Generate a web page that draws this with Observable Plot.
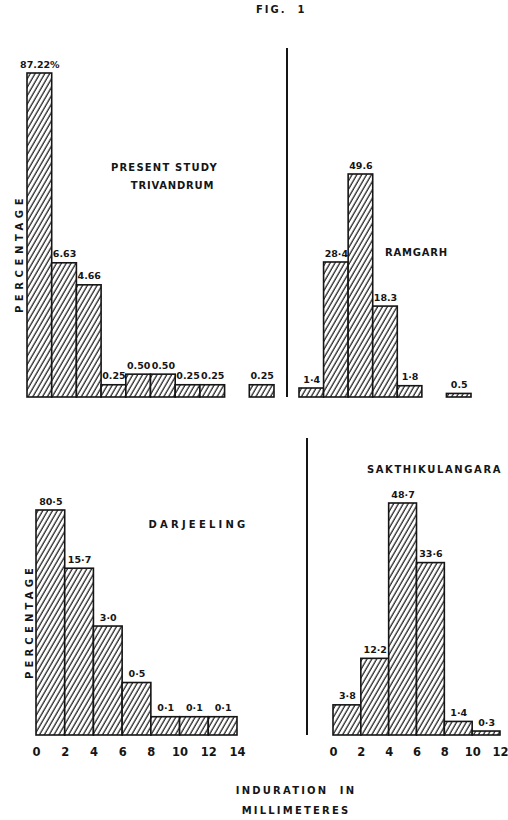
<!DOCTYPE html>
<html>
<head>
<meta charset="utf-8">
<script src="https://cdn.jsdelivr.net/npm/d3@7"></script>
<script src="https://cdn.jsdelivr.net/npm/@observablehq/plot@0.6"></script>
<style>
  html, body { margin: 0; padding: 0; background: #fff; }
  #page { position: relative; width: 508px; height: 820px; overflow: hidden; background: #fff;
          font-family: "DejaVu Sans", sans-serif; color: #151515; }
  .abs { position: absolute; }
  .divider { position: absolute; background: #151515; width: 1.6px; }
  .caption { position: absolute; width: 240px; text-align: center; font-weight: bold; font-size: 10px;
             letter-spacing: 2.2px; color: #151515; }
</style>
</head>
<body>
<svg width="0" height="0" style="position:absolute">
  <defs>
    <pattern id="hatch" patternUnits="userSpaceOnUse" width="4.2" height="4.2" patternTransform="rotate(30)">
      <rect width="4.2" height="4.2" fill="#fff"></rect>
      <line x1="1" y1="0" x2="1" y2="4.2" stroke="#151515" stroke-width="1.2"></line>
    </pattern>
  </defs>
</svg>
<div id="page">
  <div class="abs" style="left:256px; top:4px; font: bold 10px 'DejaVu Sans'; letter-spacing:2px;">FIG.&nbsp;&nbsp;1</div>
  <div class="divider" style="left:286px; top:48px; height:349px;"></div>
  <div class="divider" style="left:306px; top:438px; height:297px;"></div>
  <div class="caption" style="left:176px; top:785px;">INDURATION&nbsp;&nbsp;IN</div>
  <div class="caption" style="left:176px; top:805px;">MILLIMETERES</div>
</div>
<script>
// ---------- data (percentage of cases per 2 mm induration class) ----------
const binWidth = 2;

const trivandrumStart = [0, 2, 4, 6, 8, 10, 12, 14, 18];
const trivandrumPct   = [87.22, 6.63, 4.66, 0.25, 0.50, 0.50, 0.25, 0.25, 0.25];

const ramgarhStart = [0, 2, 4, 6, 8, 12];
const ramgarhPct   = [1.4, 28.4, 49.6, 18.3, 1.8, 0.5];

const darjeelingStart = [0, 2, 4, 6, 8, 10, 12];
const darjeelingPct   = [80.5, 15.7, 3.0, 0.5, 0.1, 0.1, 0.1];

const sakthiStart = [0, 2, 4, 6, 8, 10];
const sakthiPct   = [3.8, 12.2, 48.7, 33.6, 1.4, 0.3];

const ticksDarjeeling = [0, 2, 4, 6, 8, 10, 12, 14];
const ticksSakthi     = [0, 2, 4, 6, 8, 10, 12];

const titleTrivandrum = ["PRESENT STUDY", "TRIVANDRUM"];
const titleRamgarh = "RAMGARH";
const titleDarjeeling = "DARJEELING";
const titleSakthi = "SAKTHIKULANGARA";
const yLabel = "PERCENTAGE";

// ---------- helpers ----------
const INK = "#151515";
const FONT = "'DejaVu Sans', sans-serif";

function rows(starts, pct, fmt) {
  return starts.map((s, i) => ({x1: s, x2: s + binWidth, mid: s + binWidth / 2, pct: pct[i], label: fmt(pct[i], i)}));
}
const dot = (v, d) => v.toFixed(d).replace(".", "·");

function panel(o) {
  const {data, left, top, width, height, mL, mR, mT, mB, xDomain, y, ticks, texts} = o;
  const marks = [
    Plot.rectY(data, {x1: "x1", x2: "x2", y: "pct", fill: "url(#hatch)", stroke: INK, strokeWidth: 1.6}),
    Plot.text(data, {x: "mid", y: "pct", text: "label", dy: -9, fontWeight: "bold", fontSize: 9.5, fill: INK})
  ];
  if (ticks) {
    marks.push(Plot.axisX({ticks, tickSize: 0, tickPadding: 12, tickFormat: d => String(d),
      fontWeight: "bold", fontSize: 11.5, fill: INK}));
  }
  for (const t of texts) {
    marks.push(Plot.text([t.text], {frameAnchor: "top-left", text: d => d,
      dx: t.x - left - mL, dy: t.y - top - mT, rotate: t.rotate || 0,
      fontWeight: "bold", fontSize: t.size || 10, fill: INK, textAnchor: "middle"}));
  }
  const svg = Plot.plot({
    width, height, marginLeft: mL, marginRight: mR, marginTop: mT, marginBottom: mB,
    style: {background: "transparent", fontFamily: FONT, color: INK, overflow: "visible"},
    x: {domain: xDomain, axis: null},
    y: {...y, axis: null},
    marks
  });
  svg.style.position = "absolute";
  svg.style.left = left + "px";
  svg.style.top = top + "px";
  // letter spacing for the hand-lettered titles
  svg.querySelectorAll("text").forEach(el => {
    const t = texts.find(t => t.text === el.textContent);
    if (t && t.ls) el.style.letterSpacing = t.ls + "px";
  });
  document.getElementById("page").appendChild(svg);
}

// Trivandrum (top left)
panel({
  data: rows(trivandrumStart, trivandrumPct, (v, i) => v.toFixed(2) + (i === 0 ? "%" : "")),
  left: 0, top: 40, width: 285, height: 360, mL: 27, mR: 11, mT: 33, mB: 3,
  xDomain: [0, 20],
  y: {type: "symlog", constant: 1.5, domain: [0, d3.max(trivandrumPct)]},
  texts: [
    {text: titleTrivandrum[0], x: 164, y: 163, ls: 1.2},
    {text: titleTrivandrum[1], x: 172, y: 181, ls: 0.8},
    {text: yLabel, x: 15, y: 253, rotate: -90, size: 10, ls: 4.6}
  ]
});

// Ramgarh (top right)
panel({
  data: rows(ramgarhStart, ramgarhPct, v => (v === 49.6 || v === 18.3 || v === 0.5) ? v.toFixed(1) : dot(v, 1)),
  left: 288, top: 40, width: 220, height: 360, mL: 11, mR: 37, mT: 134, mB: 3,
  xDomain: [0, 14],
  y: {type: "pow", exponent: 0.9, domain: [0, d3.max(ramgarhPct)]},
  texts: [
    {text: titleRamgarh, x: 416, y: 248, ls: 0.8}
  ]
});

// Darjeeling (bottom left)
panel({
  data: rows(darjeelingStart, darjeelingPct, v => dot(v, 1)),
  left: 0, top: 440, width: 300, height: 340, mL: 36, mR: 63, mT: 70, mB: 45,
  xDomain: [0, 14],
  y: {type: "symlog", constant: 0.15, domain: [0, d3.max(darjeelingPct)]},
  ticks: ticksDarjeeling,
  texts: [
    {text: titleDarjeeling, x: 198, y: 520, ls: 3.2},
    {text: yLabel, x: 25, y: 621, rotate: -90, size: 10, ls: 4.2}
  ]
});

// Sakthikulangara (bottom right)
panel({
  data: rows(sakthiStart, sakthiPct, v => dot(v, 1)),
  left: 308, top: 440, width: 200, height: 340, mL: 25, mR: 8, mT: 63, mB: 45,
  xDomain: [0, 12],
  y: {type: "pow", exponent: 0.8, domain: [0, d3.max(sakthiPct)]},
  ticks: ticksSakthi,
  texts: [
    {text: titleSakthi, x: 434, y: 465, ls: 1.6}
  ]
});
</script>
</body>
</html>
